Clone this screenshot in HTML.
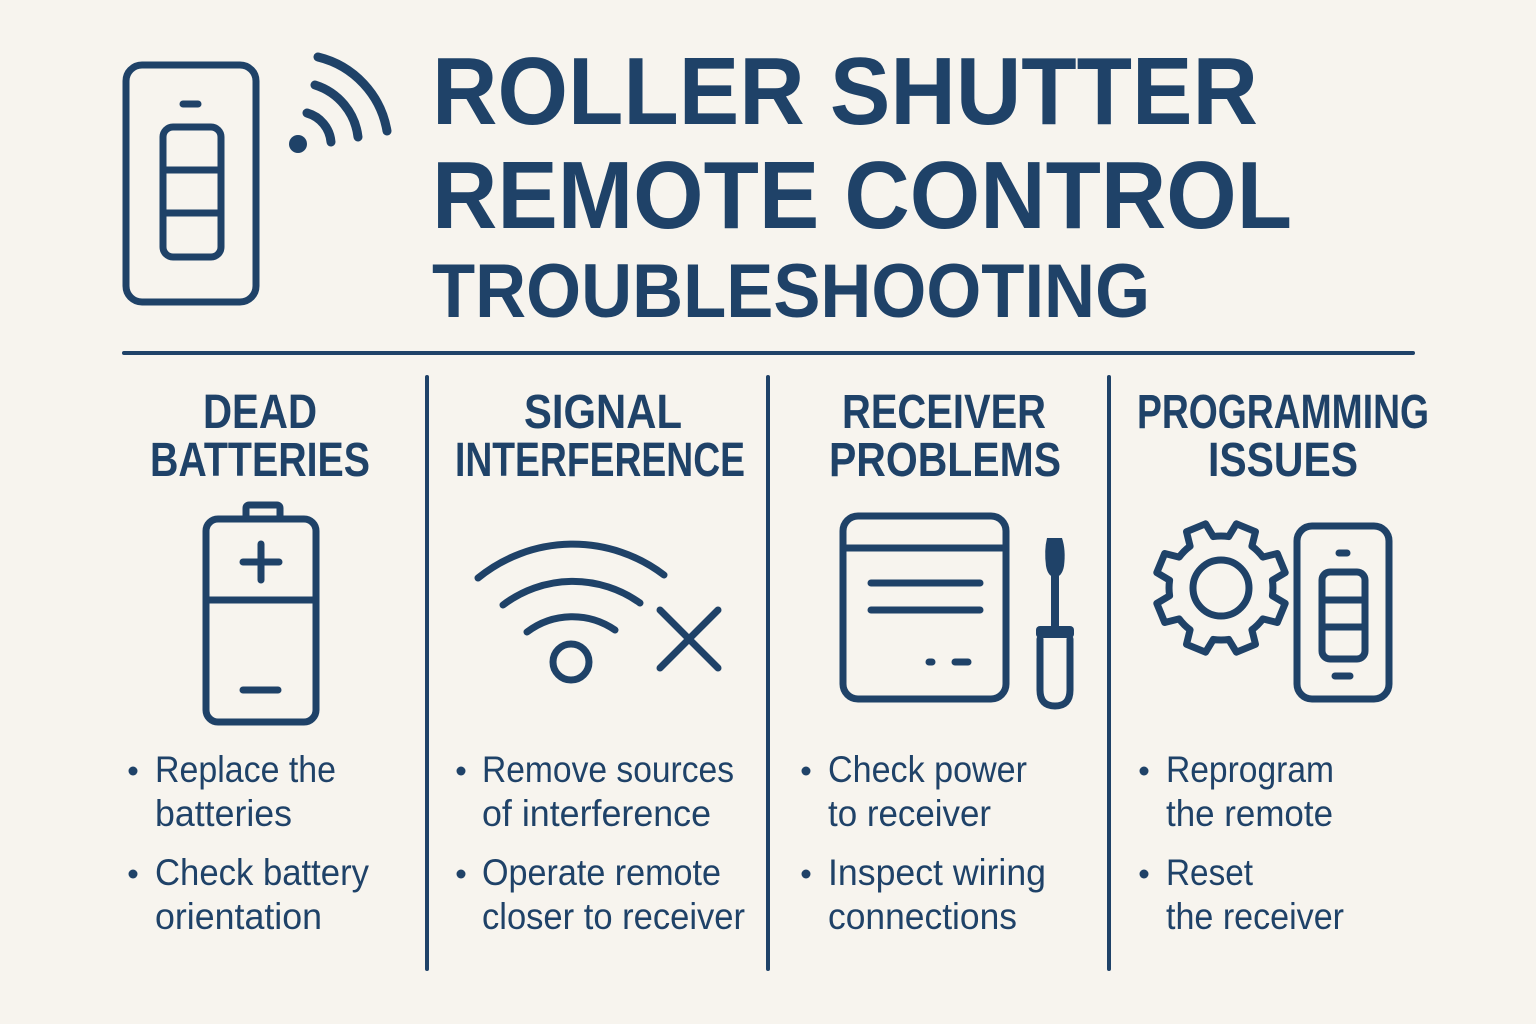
<!DOCTYPE html>
<html><head><meta charset="utf-8"><style>
html,body{margin:0;padding:0;background:#f7f4ee;}
svg{display:block}
text{font-family:"Liberation Sans",sans-serif;fill:#1f4268}
.h{font-weight:bold}
.b{font-size:37px}
</style></head><body>
<svg width="1536" height="1024" viewBox="0 0 1536 1024" xmlns="http://www.w3.org/2000/svg">
<rect width="1536" height="1024" fill="#f7f4ee"/>
<g fill="none" stroke="#1f4268" stroke-width="7" stroke-linecap="round" stroke-linejoin="round">
<!-- top remote -->
<rect x="126" y="65" width="130" height="237" rx="16"/>
<line x1="183" y1="104" x2="198" y2="104"/>
<rect x="163" y="127" width="58" height="130" rx="10"/>
<line x1="163" y1="170" x2="221" y2="170"/>
<line x1="163" y1="213" x2="221" y2="213"/>
<g stroke-width="9">
<path d="M307 113 A33 33 0 0 1 331 142"/>
<path d="M315 85 A62 62 0 0 1 358 137"/>
<path d="M318 57 A92 92 0 0 1 387 131"/>
</g>
<!-- dividers -->
<line x1="124" y1="353" x2="1413" y2="353" stroke-width="4"/>
<line x1="427" y1="377" x2="427" y2="969" stroke-width="4"/>
<line x1="768" y1="377" x2="768" y2="969" stroke-width="4"/>
<line x1="1109" y1="377" x2="1109" y2="969" stroke-width="4"/>
<!-- battery -->
<rect x="206" y="519" width="110" height="203" rx="12"/>
<rect x="246" y="505" width="34" height="14" rx="3"/>
<line x1="206" y1="600" x2="316" y2="600"/>
<line x1="261" y1="544" x2="261" y2="580"/>
<line x1="243" y1="562" x2="279" y2="562"/>
<line x1="243" y1="690" x2="278" y2="690"/>
<!-- signal -->
<circle cx="571" cy="662" r="18"/>
<path d="M478 578 A150 150 0 0 1 664 575"/>
<path d="M503 605 A115 115 0 0 1 640 603"/>
<path d="M527 632 A75 75 0 0 1 615 630"/>
<line x1="660" y1="610" x2="718" y2="668"/>
<line x1="718" y1="610" x2="660" y2="668"/>
<!-- receiver -->
<rect x="843" y="516" width="163" height="183" rx="15"/>
<line x1="843" y1="548" x2="1006" y2="548"/>
<line x1="871" y1="583" x2="980" y2="583"/>
<line x1="871" y1="610" x2="980" y2="610"/>
<line x1="929" y1="662" x2="932" y2="662"/>
<line x1="955" y1="662" x2="968" y2="662"/>
<path d="M1040 639 L1040 690 Q1040 706 1055 706 Q1070 706 1070 690 L1070 639"/>
<!-- gear + phone -->
<path id="gear" d=""/>
<circle cx="1221" cy="588" r="28"/>
<rect x="1297" y="526" width="92" height="173" rx="15"/>
<line x1="1339" y1="553" x2="1347" y2="553"/>
<rect x="1322" y="572" width="43" height="87" rx="8"/>
<line x1="1322" y1="600" x2="1365" y2="600"/>
<line x1="1322" y1="627" x2="1365" y2="627"/>
<line x1="1335" y1="676" x2="1350" y2="676"/>
</g>
<g fill="#1f4268">
<circle cx="298" cy="144" r="9"/>
<path d="M1047 538 L1062 538 Q1066 550 1064 566 Q1062 577 1055 577 Q1048 577 1046 566 Q1044 550 1047 538 Z"/>
<rect x="1051" y="575" width="8" height="55"/>
<rect x="1036" y="626" width="38" height="12" rx="4"/>
</g>
<!-- title -->
<text class="h" x="432" y="124" font-size="96" textLength="826" lengthAdjust="spacingAndGlyphs">ROLLER SHUTTER</text>
<text class="h" x="432" y="228" font-size="96" textLength="860" lengthAdjust="spacingAndGlyphs">REMOTE CONTROL</text>
<text class="h" x="432" y="317" font-size="76" textLength="718" lengthAdjust="spacingAndGlyphs">TROUBLESHOOTING</text>
<!-- headings -->
<g text-anchor="middle">
<text x="260" y="428" class="h" font-size="48" textLength="114" lengthAdjust="spacingAndGlyphs">DEAD</text>
<text x="260" y="476" class="h" font-size="48" textLength="220" lengthAdjust="spacingAndGlyphs">BATTERIES</text>
<text x="603" y="428" class="h" font-size="48" textLength="158" lengthAdjust="spacingAndGlyphs">SIGNAL</text>
<text x="600" y="476" class="h" font-size="48" textLength="290" lengthAdjust="spacingAndGlyphs">INTERFERENCE</text>
<text x="944" y="428" class="h" font-size="48" textLength="204" lengthAdjust="spacingAndGlyphs">RECEIVER</text>
<text x="945" y="476" class="h" font-size="48" textLength="232" lengthAdjust="spacingAndGlyphs">PROBLEMS</text>
<text x="1283" y="428" class="h" font-size="48" textLength="292" lengthAdjust="spacingAndGlyphs">PROGRAMMING</text>
<text x="1283" y="476" class="h" font-size="48" textLength="150" lengthAdjust="spacingAndGlyphs">ISSUES</text>
</g>
<!-- bullets -->
<g fill="#1f4268">
<circle cx="133" cy="771" r="4.5"/><circle cx="133" cy="874" r="4.5"/>
<circle cx="461" cy="771" r="4.5"/><circle cx="461" cy="874" r="4.5"/>
<circle cx="806" cy="771" r="4.5"/><circle cx="806" cy="874" r="4.5"/>
<circle cx="1144" cy="771" r="4.5"/><circle cx="1144" cy="874" r="4.5"/>
</g>
<g>
<text x="155" y="782" class="b" textLength="181" lengthAdjust="spacingAndGlyphs">Replace the</text>
<text x="155" y="826" class="b" textLength="137" lengthAdjust="spacingAndGlyphs">batteries</text>
<text x="155" y="885" class="b" textLength="214" lengthAdjust="spacingAndGlyphs">Check battery</text>
<text x="155" y="929" class="b" textLength="167" lengthAdjust="spacingAndGlyphs">orientation</text>
<text x="482" y="782" class="b" textLength="252" lengthAdjust="spacingAndGlyphs">Remove sources</text>
<text x="482" y="826" class="b" textLength="229" lengthAdjust="spacingAndGlyphs">of interference</text>
<text x="482" y="885" class="b" textLength="239" lengthAdjust="spacingAndGlyphs">Operate remote</text>
<text x="482" y="929" class="b" textLength="263" lengthAdjust="spacingAndGlyphs">closer to receiver</text>
<text x="828" y="782" class="b" textLength="199" lengthAdjust="spacingAndGlyphs">Check power</text>
<text x="828" y="826" class="b" textLength="163" lengthAdjust="spacingAndGlyphs">to receiver</text>
<text x="828" y="885" class="b" textLength="218" lengthAdjust="spacingAndGlyphs">Inspect wiring</text>
<text x="828" y="929" class="b" textLength="189" lengthAdjust="spacingAndGlyphs">connections</text>
<text x="1166" y="782" class="b" textLength="168" lengthAdjust="spacingAndGlyphs">Reprogram</text>
<text x="1166" y="826" class="b" textLength="167" lengthAdjust="spacingAndGlyphs">the remote</text>
<text x="1166" y="885" class="b" textLength="87" lengthAdjust="spacingAndGlyphs">Reset</text>
<text x="1166" y="929" class="b" textLength="178" lengthAdjust="spacingAndGlyphs">the receiver</text>
</g>
</svg>
<script>
(function(){
var cx=1221,cy=588,R=66,r=52,n=8,d="";
function p(a,rad){a=a*Math.PI/180;return (cx+rad*Math.cos(a)).toFixed(1)+" "+(cy+rad*Math.sin(a)).toFixed(1);}
for(var i=0;i<n;i++){var t=i*45-22.5;
d+=(i==0?"M":"L")+p(t-14,r)+" L"+p(t-9,R)+" L"+p(t+9,R)+" L"+p(t+14,r)+" A"+r+" "+r+" 0 0 1 "+p(t+31,r)+" ";}
document.getElementById("gear").setAttribute("d",d+"Z");
})();
</script>
</body></html>
